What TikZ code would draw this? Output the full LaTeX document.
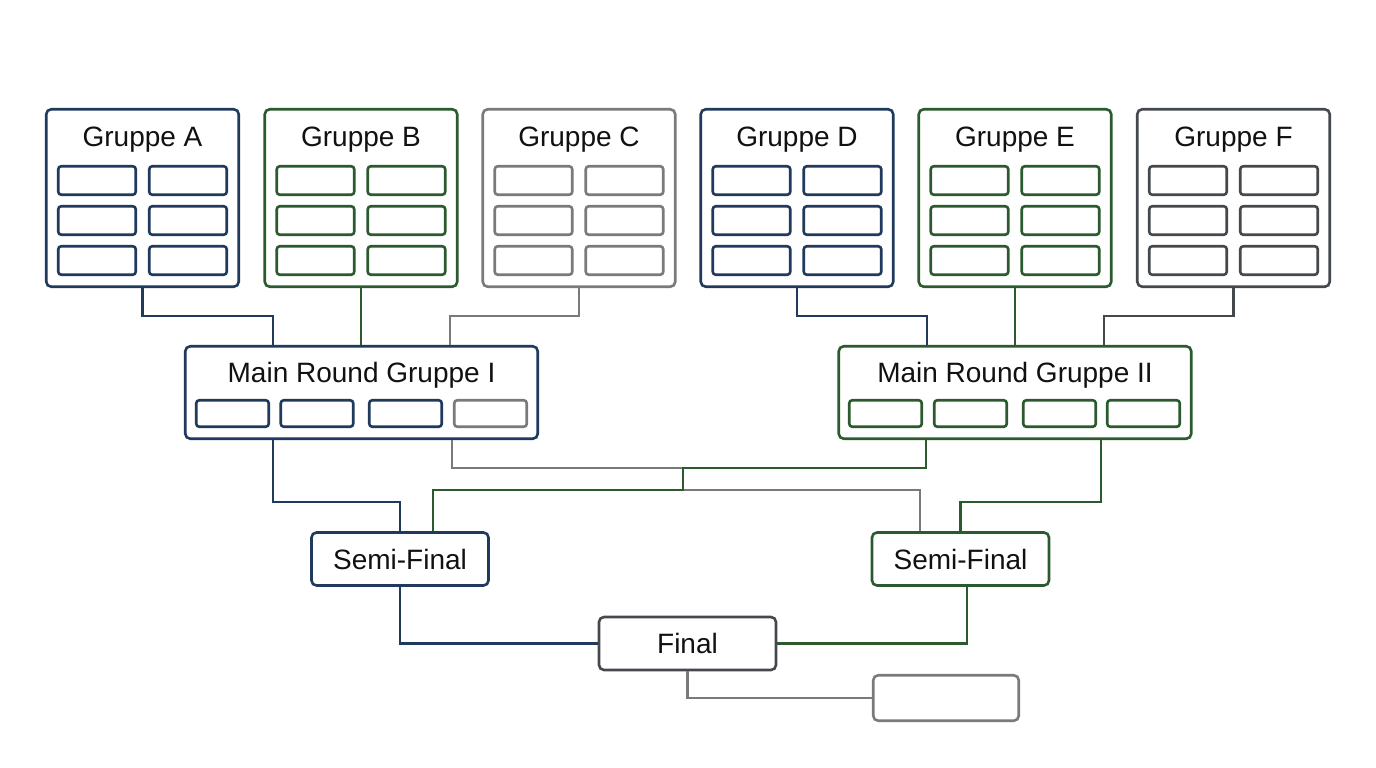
\documentclass[tikz,border=0pt]{standalone}
\usepackage{fontspec}
\setmainfont{Liberation Sans}
\usetikzlibrary{positioning}
\definecolor{navy}{HTML}{1F3A5C}
\definecolor{leaf}{HTML}{2B5A2E}
\definecolor{ash}{HTML}{7A7A7A}
\definecolor{slate}{HTML}{45494E}
\definecolor{ink}{HTML}{111111}
\tikzset{
  grp/.style   = {draw, line width=2.6pt, rounded corners=5pt, fill=white,
                  minimum width=192.5pt, minimum height=177.5pt},
  slot/.style  = {draw, line width=2.6pt, rounded corners=3pt, fill=white,
                  minimum width=77.5pt, minimum height=28.5pt},
  mslot/.style = {draw, line width=2.6pt, rounded corners=3pt, fill=white,
                  minimum width=72.5pt, minimum height=26.5pt},
  mround/.style= {draw, line width=2.6pt, rounded corners=5pt, fill=white,
                  minimum width=352.5pt, minimum height=92.5pt},
  match/.style = {draw, line width=2.6pt, rounded corners=5pt, fill=white,
                  minimum width=177pt, minimum height=53pt, text=ink,
                  font=\fontsize{28}{34}\selectfont},
  title/.style = {text=ink, inner sep=0pt, font=\fontsize{28}{34}\selectfont},
  wire/.style  = {line width=2.6pt},
}

\begin{document}
\begin{tikzpicture}[x=1pt,y=-1pt]
  \useasboundingbox (0,0) rectangle (1376,768);
  % group stage
  \foreach \g/\cx/\col in {A/142.5/navy, B/361/leaf, C/579/ash,
                           D/797/navy, E/1015/leaf, F/1233.5/slate} {
    \node[grp, draw=\col] (grp\g) at (\cx,198) {};
    \node[title] (ttl\g) at (\cx,140) {Gruppe \g};
    \foreach \ry [count=\r] in {180.5,220.5,260.5} {
      \node[slot, draw=\col] (grp\g-\r l) at ({\cx-45.5},\ry) {};
      \node[slot, draw=\col] (grp\g-\r r) at ({\cx+45.5},\ry) {};
    }
  }
  % main round
  \node[mround, draw=navy] (mrI) at (361.5,392.5) {};
  \node[title] (ttlI) at (361.5,375) {Main Round Gruppe I};
  \foreach \dx/\col [count=\i] in {-129/navy, -44.5/navy, 44/navy, 129/ash}
    \node[mslot, draw=\col] (mrI-\i) at ({361.5+\dx},413.5) {};
  \node[mround, draw=leaf] (mrII) at (1015,392.5) {};
  \node[title] (ttlII) at (1015,375) {Main Round Gruppe II};
  \foreach \dx [count=\i] in {-129.5,-44.5,44.5,128.5}
    \node[mslot, draw=leaf] (mrII-\i) at ({1015+\dx},413.5) {};
  % knockout
  \node[match, draw=navy] (sfL) at (400,559) {Semi-Final};
  \node[match, draw=leaf] (sfR) at (960.5,559) {Semi-Final};
  \node[match, draw=slate] (final) at (687.5,643.5) {Final};
  \node[draw=ash, line width=2.6pt, rounded corners=5pt,
        minimum width=145.5pt, minimum height=45.5pt] (spare) at (946,698) {};
  \coordinate (xa) at (683,468);
  \coordinate (xb) at (683,490);

  % groups -> main round
  \draw[wire, navy]  (grpA.south) -- ++(0,28) -| ([xshift=-88.5pt]mrI.north);
  \draw[wire, leaf]  (grpB.south) -- (grpB.south |- mrI.north);
  \draw[wire, ash]   (grpC.south) -- ++(0,28) -| ([xshift=88.5pt]mrI.north);
  \draw[wire, navy]  (grpD.south) -- ++(0,28) -| ([xshift=-88pt]mrII.north);
  \draw[wire, leaf]  (grpE.south) -- (grpE.south |- mrII.north);
  \draw[wire, slate] (grpF.south) -- ++(0,28) -| ([xshift=89pt]mrII.north);
  % main round -> semis
  \draw[wire, navy] ([xshift=-88.5pt]mrI.south) -- ++(0,62) -| (sfL.north);
  \draw[wire, ash]  ([xshift=90.5pt]mrI.south) |- (xa) -- (xb)
                    -| ([xshift=-40.5pt]sfR.north);
  \draw[wire, leaf] ([xshift=-89pt]mrII.south) |- (xa) -- (xb)
                    -| ([xshift=33pt]sfL.north);
  \draw[wire, leaf] ([xshift=86pt]mrII.south) -- ++(0,62) -| (sfR.north);
  % semis -> final
  \draw[wire, navy] (sfL.south) |- (final.west);
  \draw[wire, leaf] ([xshift=6.5pt]sfR.south) |- (final.east);
  \draw[wire, ash]  (final.south) |- (spare.west);
\end{tikzpicture}
\end{document}
